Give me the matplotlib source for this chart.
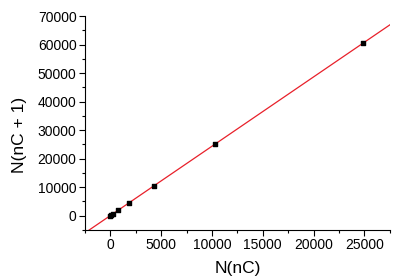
import matplotlib
matplotlib.use("Agg")
import matplotlib.pyplot as plt
import numpy as np
from matplotlib.ticker import MultipleLocator

x_vals = [10, 100, 300, 750, 1800, 4300, 10300, 24900]
y_vals = [25, 250, 730, 1830, 4500, 10500, 25100, 60600]
x_ticks = [0, 5000, 10000, 15000, 20000, 25000]
y_ticks = [0, 10000, 20000, 30000, 40000, 50000, 60000, 70000]

plt.rcParams['font.family'] = ['Liberation Sans', 'DejaVu Sans']
fig = plt.figure(figsize=(3.95, 2.78), dpi=100)
ax = fig.add_axes([0.215, 0.173, 0.772, 0.769])

xlim = (-2500, 27500)
ylim = (-5000, 70000)

coef = np.polyfit(x_vals, y_vals, 1)
xl = np.array(xlim)
ax.plot(xl, np.polyval(coef, xl), color='#e8202a', lw=0.9, zorder=2)
ax.scatter(x_vals, y_vals, marker='s', s=8, color='black', zorder=3)

ax.set_xlim(*xlim)
ax.set_ylim(*ylim)
ax.set_xticks(x_ticks)
ax.set_yticks(y_ticks)
ax.xaxis.set_minor_locator(MultipleLocator(2500))
ax.yaxis.set_minor_locator(MultipleLocator(5000))
for s in ['top', 'right']:
    ax.spines[s].set_visible(False)
ax.tick_params(which='major', direction='out', length=4, width=0.8, labelsize=10, pad=2)
ax.tick_params(which='minor', direction='out', length=2.5, width=0.8)
ax.set_xlabel('N(nC)', fontsize=12.5, labelpad=6)
ax.set_ylabel('N(nC + 1)', fontsize=12.5)
ax.yaxis.set_label_coords(-0.19, 0.444)

fig.savefig('out.png', dpi=100)
